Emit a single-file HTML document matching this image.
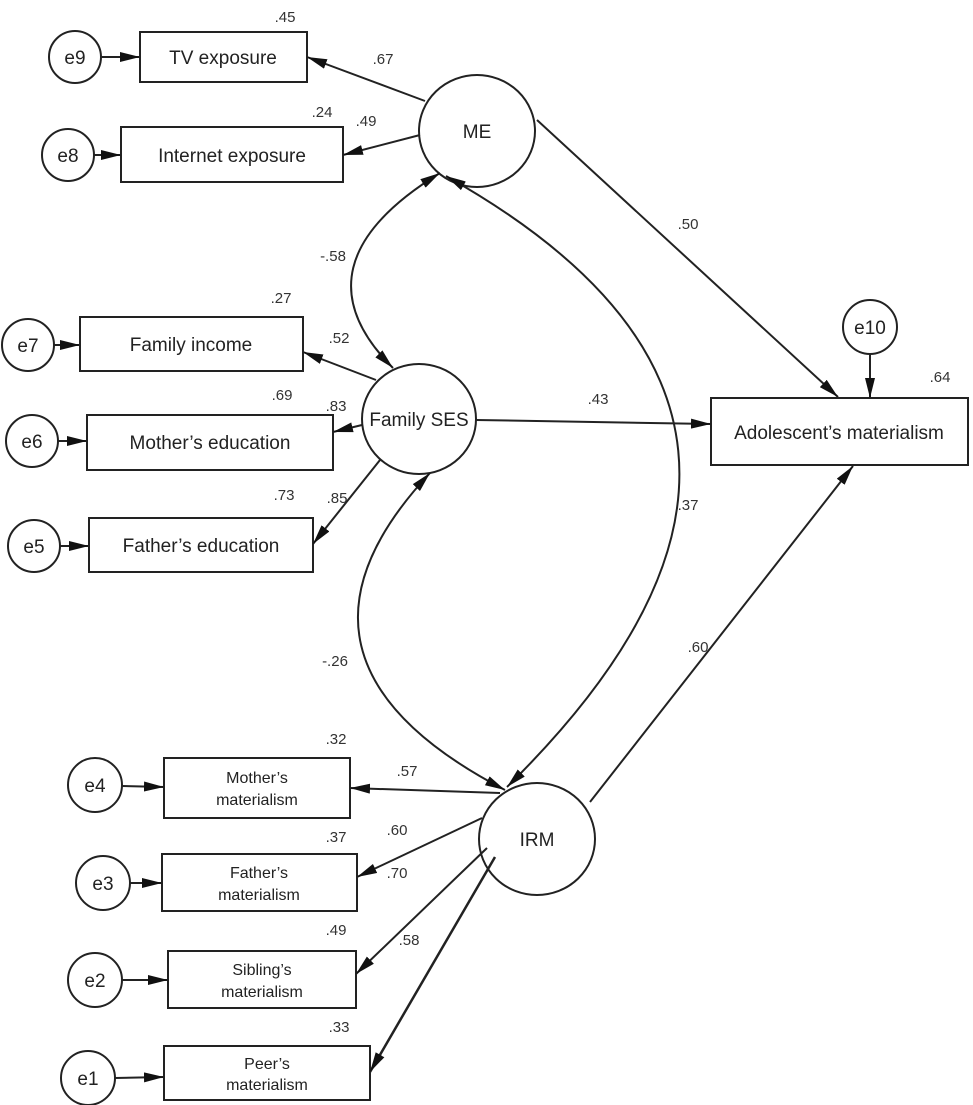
<!DOCTYPE html>
<html><head><meta charset="utf-8"><style>
html,body{margin:0;padding:0;background:#fff}
svg{display:block}
text{font-family:"Liberation Sans",sans-serif;fill:#222}
.n{font-size:15px;fill:#333}
.b{font-size:19px}
.s{font-size:16px}
</style></head><body>
<svg width="973" height="1105" viewBox="0 0 973 1105" xmlns="http://www.w3.org/2000/svg">
<defs>
<marker id="a" viewBox="0 0 20 10" refX="20" refY="5" markerWidth="20" markerHeight="10" markerUnits="userSpaceOnUse" orient="auto-start-reverse">
<path d="M0,0 L20,5 L0,10 z" fill="#111"/></marker>
</defs>
<g fill="#fff" stroke="#222" stroke-width="2">
<!-- error circles -->
<circle cx="75" cy="57" r="26"/>
<circle cx="68" cy="155" r="26"/>
<circle cx="28" cy="345" r="26"/>
<circle cx="32" cy="441" r="26"/>
<circle cx="34" cy="546" r="26"/>
<circle cx="870" cy="327" r="27"/>
<circle cx="95" cy="785" r="27"/>
<circle cx="103" cy="883" r="27"/>
<circle cx="95" cy="980" r="27"/>
<circle cx="88" cy="1078" r="27"/>
<!-- boxes -->
<rect x="140" y="32" width="167" height="50"/>
<rect x="121" y="127" width="222" height="55"/>
<rect x="80" y="317" width="223" height="54"/>
<rect x="87" y="415" width="246" height="55"/>
<rect x="89" y="518" width="224" height="54"/>
<rect x="711" y="398" width="257" height="67"/>
<rect x="164" y="758" width="186" height="60"/>
<rect x="162" y="854" width="195" height="57"/>
<rect x="168" y="951" width="188" height="57"/>
<rect x="164" y="1046" width="206" height="54"/>
<!-- latent -->
<ellipse cx="477" cy="131" rx="58" ry="56"/>
<ellipse cx="419" cy="419" rx="57" ry="55"/>
<ellipse cx="537" cy="839" rx="58" ry="56"/>
</g>
<g stroke="#222" stroke-width="2" fill="none">
<line x1="101" y1="57" x2="140" y2="57" marker-end="url(#a)"/>
<line x1="94" y1="155" x2="121" y2="155" marker-end="url(#a)"/>
<line x1="54" y1="345" x2="80" y2="345" marker-end="url(#a)"/>
<line x1="58" y1="441" x2="87" y2="441" marker-end="url(#a)"/>
<line x1="60" y1="546" x2="89" y2="546" marker-end="url(#a)"/>
<line x1="870" y1="354" x2="870" y2="398" marker-end="url(#a)"/>
<line x1="122" y1="786" x2="164" y2="787" marker-end="url(#a)"/>
<line x1="130" y1="883" x2="162" y2="883" marker-end="url(#a)"/>
<line x1="122" y1="980" x2="168" y2="980" marker-end="url(#a)"/>
<line x1="115" y1="1078" x2="164" y2="1077" marker-end="url(#a)"/>

<line x1="425" y1="101" x2="307" y2="57" marker-end="url(#a)"/>
<line x1="420" y1="135" x2="343" y2="155" marker-end="url(#a)"/>
<line x1="537" y1="120" x2="838" y2="397" marker-end="url(#a)"/>
<line x1="376" y1="380" x2="303" y2="352" marker-end="url(#a)"/>
<line x1="362" y1="425" x2="333" y2="432" marker-end="url(#a)"/>
<line x1="380" y1="460" x2="313" y2="544" marker-end="url(#a)"/>
<line x1="476" y1="420" x2="711" y2="424" marker-end="url(#a)"/>
<line x1="590" y1="802" x2="853" y2="466" marker-end="url(#a)"/>
<line x1="500" y1="793" x2="350" y2="788" marker-end="url(#a)"/>
<line x1="482" y1="818" x2="357" y2="877" marker-end="url(#a)"/>
<line x1="487" y1="848" x2="356" y2="974" marker-end="url(#a)"/>
<line x1="495" y1="857" x2="370" y2="1072" marker-end="url(#a)" stroke-width="2.5"/>

<path d="M440,173 Q290,265 393,368" marker-start="url(#a)" marker-end="url(#a)"/>
<path d="M446,176 Q880,420 507,787" marker-start="url(#a)" marker-end="url(#a)"/>
<path d="M430,473 Q255,660 505,790" marker-start="url(#a)" marker-end="url(#a)"/>
</g>
<g text-anchor="middle">
<text class="b" x="75" y="64">e9</text>
<text class="b" x="68" y="162">e8</text>
<text class="b" x="28" y="352">e7</text>
<text class="b" x="32" y="448">e6</text>
<text class="b" x="34" y="553">e5</text>
<text class="b" x="870" y="334">e10</text>
<text class="b" x="95" y="792">e4</text>
<text class="b" x="103" y="890">e3</text>
<text class="b" x="95" y="987">e2</text>
<text class="b" x="88" y="1085">e1</text>
<text class="b" x="223" y="64">TV exposure</text>
<text class="b" x="232" y="162">Internet exposure</text>
<text class="b" x="191" y="351">Family income</text>
<text class="b" x="210" y="449">Mother’s education</text>
<text class="b" x="201" y="552">Father’s education</text>
<text class="b" x="839" y="439">Adolescent’s materialism</text>
<text class="s" x="257" y="783">Mother’s</text><text class="s" x="257" y="805">materialism</text>
<text class="s" x="259" y="878">Father’s</text><text class="s" x="259" y="900">materialism</text>
<text class="s" x="262" y="975">Sibling’s</text><text class="s" x="262" y="997">materialism</text>
<text class="s" x="267" y="1069">Peer’s</text><text class="s" x="267" y="1090">materialism</text>
<text class="b" x="477" y="138">ME</text>
<text class="b" x="419" y="426">Family SES</text>
<text class="b" x="537" y="846">IRM</text>
</g>
<g class="n" text-anchor="middle">
<text class="n" x="285" y="22">.45</text>
<text class="n" x="383" y="64">.67</text>
<text class="n" x="322" y="117">.24</text>
<text class="n" x="366" y="126">.49</text>
<text class="n" x="688" y="229">.50</text>
<text class="n" x="333" y="261">-.58</text>
<text class="n" x="281" y="303">.27</text>
<text class="n" x="339" y="343">.52</text>
<text class="n" x="282" y="400">.69</text>
<text class="n" x="336" y="411">.83</text>
<text class="n" x="598" y="404">.43</text>
<text class="n" x="940" y="382">.64</text>
<text class="n" x="337" y="503">.85</text>
<text class="n" x="284" y="500">.73</text>
<text class="n" x="688" y="510">.37</text>
<text class="n" x="698" y="652">.60</text>
<text class="n" x="335" y="666">-.26</text>
<text class="n" x="336" y="744">.32</text>
<text class="n" x="407" y="776">.57</text>
<text class="n" x="336" y="842">.37</text>
<text class="n" x="397" y="835">.60</text>
<text class="n" x="397" y="878">.70</text>
<text class="n" x="336" y="935">.49</text>
<text class="n" x="409" y="945">.58</text>
<text class="n" x="339" y="1032">.33</text>
</g>
</svg>
</body></html>
